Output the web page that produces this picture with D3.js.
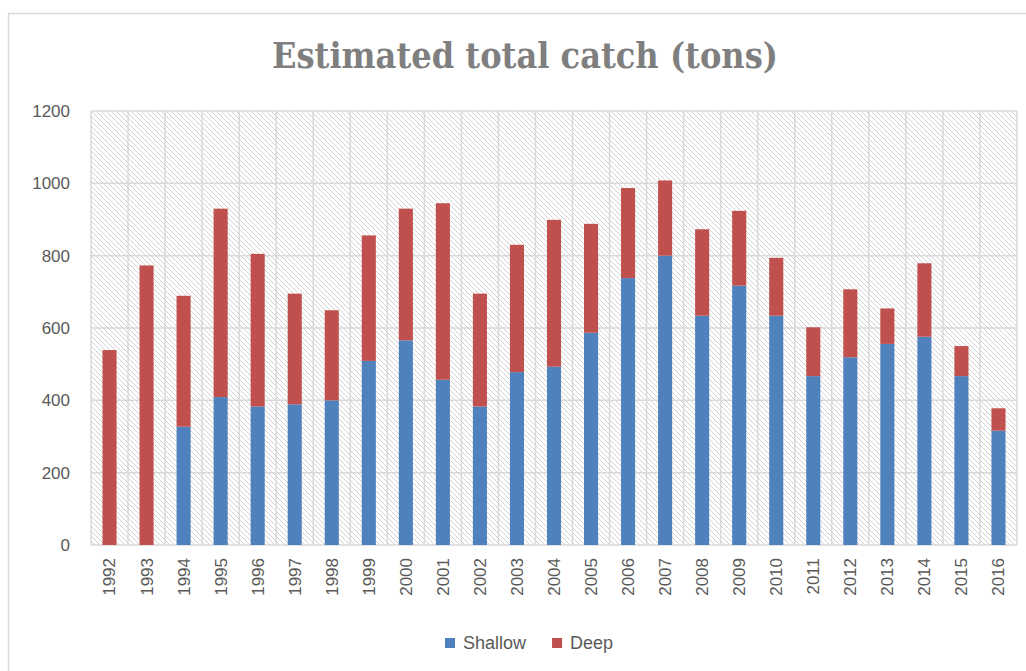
<!DOCTYPE html>
<html>
<head>
<meta charset="utf-8">
<script src="https://cdn.jsdelivr.net/npm/d3@7"></script>
<style>
  body { margin: 0; background: #fff; }
  svg { display: block; }
</style>
</head>
<body>
<div id="vis"></div>
<script>
// Data
const years = ['1992', '1993', '1994', '1995', '1996', '1997', '1998', '1999', '2000', '2001',
    '2002', '2003', '2004', '2005', '2006', '2007', '2008', '2009', '2010', '2011',
    '2012', '2013', '2014', '2015', '2016'];
const shallow = [0, 0, 327, 409, 383, 389, 400, 509, 566, 457,
    383, 478, 493, 587, 738, 800, 634, 717, 634, 467,
    519, 556, 576, 467, 316];
const deep = [539, 773, 362, 521, 422, 306, 249, 347, 364, 488,
    312, 352, 406, 301, 249, 208, 239, 207, 160, 135,
    188, 98, 203, 83, 62];
const yTicks = [0, 200, 400, 600, 800, 1000, 1200];
const seriesNames = ['Shallow', 'Deep'];
const colors = { Shallow: '#4f81bd', Deep: '#c0504d' };

const W = 1026, H = 671;
const plot = { left: 91, right: 1017, top: 111, bottom: 545 };
const textColor = '#595959';
const gridColor = '#d9d9d9';

const svg = d3.select('#vis')
    .append('svg')
    .attr('width', W)
    .attr('height', H);

// hatch pattern for plot background
const defs = svg.append('defs');
defs.append('pattern')
    .attr('id', 'hatch')
    .attr('patternUnits', 'userSpaceOnUse')
    .attr('width', 5)
    .attr('height', 5)
    .append('path')
    .attr('d', 'M0,0 L5,5 M-1,4 L1,6 M4,-1 L6,1')
    .attr('stroke', '#d2d2d2')
    .attr('stroke-width', 1);

// chart border
svg.append('rect')
    .attr('x', 8.5).attr('y', 13.5)
    .attr('width', 1040).attr('height', 700)
    .attr('fill', '#fff')
    .attr('stroke', gridColor)
    .attr('stroke-width', 1.5);

const table = years.map((y, i) => ({ year: y, Shallow: shallow[i], Deep: deep[i] }));
const stacked = d3.stack().keys(seriesNames)(table);

const x = d3.scaleBand()
    .domain(years)
    .range([plot.left, plot.right])
    .paddingInner(0.62)
    .paddingOuter(0.31);

const y = d3.scaleLinear()
    .domain([0, 1200])
    .range([plot.bottom, plot.top]);

// plot background
svg.append('rect')
    .attr('x', plot.left).attr('y', plot.top)
    .attr('width', plot.right - plot.left).attr('height', plot.bottom - plot.top)
    .attr('fill', 'url(#hatch)');

// horizontal gridlines
svg.append('g')
    .selectAll('line')
    .data(yTicks)
    .join('line')
    .attr('x1', plot.left).attr('x2', plot.right)
    .attr('y1', d => y(d)).attr('y2', d => y(d))
    .attr('stroke', gridColor)
    .attr('stroke-width', 1.5);

// vertical gridlines at category boundaries
const step = x.step();
const x0 = x.range()[0];
svg.append('g')
    .selectAll('line')
    .data(d3.range(years.length + 1))
    .join('line')
    .attr('x1', i => x0 + i * step).attr('x2', i => x0 + i * step)
    .attr('y1', plot.top).attr('y2', plot.bottom)
    .attr('stroke', gridColor)
    .attr('stroke-width', 1.5);

// bars
svg.append('g')
    .selectAll('g')
    .data(stacked)
    .join('g')
    .attr('fill', d => colors[d.key])
    .selectAll('rect')
    .data(d => d)
    .join('rect')
    .attr('x', d => x(d.data.year))
    .attr('width', x.bandwidth())
    .attr('y', d => y(d[1]))
    .attr('height', d => y(d[0]) - y(d[1]));

// y axis
const yAxis = svg.append('g')
    .attr('transform', `translate(${plot.left},0)`)
    .call(d3.axisLeft(y).tickValues(yTicks).tickFormat(d3.format('d')).tickSize(0).tickPadding(21));
yAxis.select('.domain').remove();
yAxis.selectAll('text')
    .attr('fill', textColor)
    .style('font-family', 'Liberation Sans, Arial, sans-serif')
    .style('font-size', '17px');

// x axis labels, rotated
svg.append('g')
    .selectAll('text')
    .data(years)
    .join('text')
    .attr('transform', d => `translate(${x(d) + x.bandwidth() / 2},${plot.bottom + 13}) rotate(-90)`)
    .attr('text-anchor', 'end')
    .attr('dy', '0.35em')
    .attr('fill', textColor)
    .style('font-family', 'Liberation Sans, Arial, sans-serif')
    .style('font-size', '17px')
    .text(d => d);

// title
svg.append('text')
    .attr('x', 525)
    .attr('y', 68)
    .attr('text-anchor', 'middle')
    .attr('fill', '#7f7f7f')
    .attr('textLength', 506)
    .attr('lengthAdjust', 'spacingAndGlyphs')
    .style('font-family', 'DejaVu Serif, serif')
    .style('font-weight', 'bold')
    .style('font-size', '35px')
    .text('Estimated total catch (tons)');

// legend
const legend = svg.append('g');
let lx = 445;
seriesNames.forEach(name => {
    legend.append('rect')
        .attr('x', lx).attr('y', 638)
        .attr('width', 10).attr('height', 10)
        .attr('fill', colors[name]);
    const t = legend.append('text')
        .attr('x', lx + 18)
        .attr('y', 643)
        .attr('dy', '0.35em')
        .attr('fill', textColor)
        .style('font-family', 'Liberation Sans, Arial, sans-serif')
        .style('font-size', '18px')
        .text(name);
    lx += 18 + t.node().getComputedTextLength() + 26;
});
</script>
</body>
</html>
